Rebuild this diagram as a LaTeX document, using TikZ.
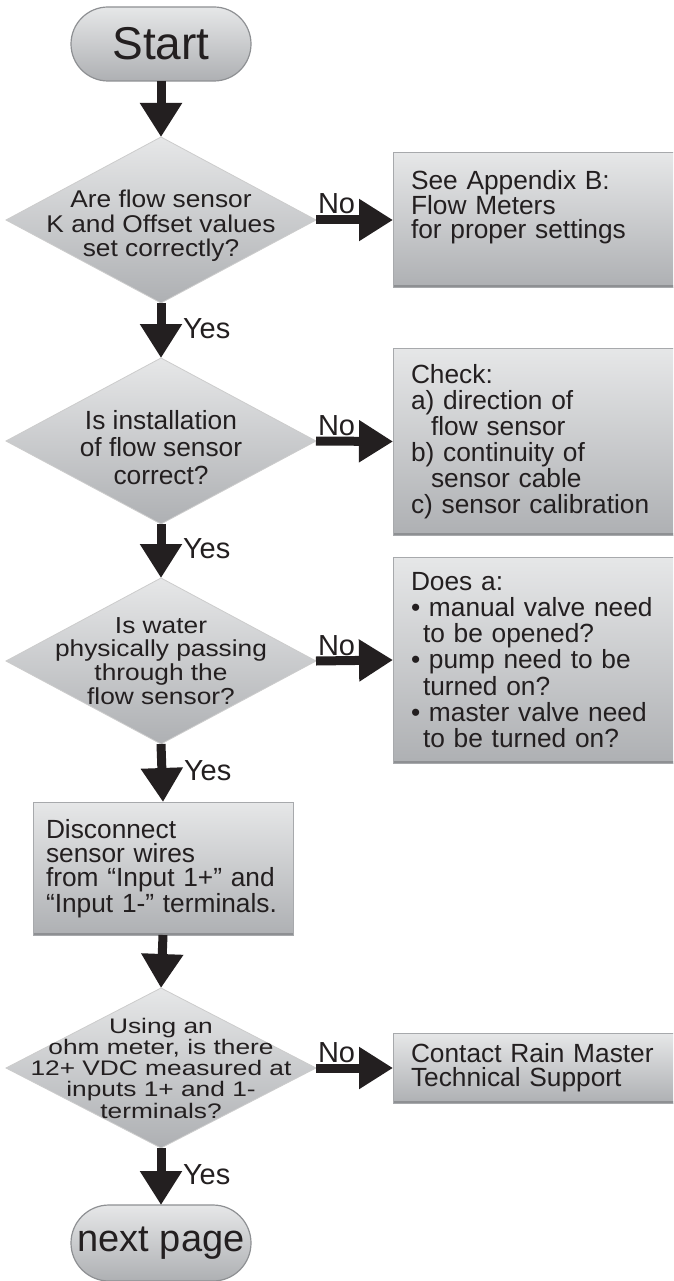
\documentclass[tikz,border=0pt]{standalone}
\usepackage{fontspec}
\setmainfont{Liberation Sans}
\usetikzlibrary{shapes.geometric,shapes.misc,arrows.meta,calc}
\definecolor{ink}{HTML}{231F20}
\definecolor{gtop}{HTML}{E6E7E8}
\definecolor{gbot}{HTML}{AEB0B3}
\definecolor{edge}{HTML}{A7A9AC}
\definecolor{edgedark}{HTML}{8E9093}
\newcommand\vsq[3]{\scalebox{1}[#1]{\fontsize{26.3}{#2}\selectfont\begin{tabular}{@{}c@{}}#3\end{tabular}}}
\begin{document}
\begin{tikzpicture}[x=1pt,y=-1pt,
  every node/.style={outer sep=0pt, text=ink},
  pill/.style={rounded rectangle, minimum width=180pt, minimum height=74pt, inner sep=0pt,
    top color=gtop, bottom color=gbot, draw=edgedark, line width=1.2pt},
  dia/.style={diamond, minimum width=310pt, minimum height=166pt, inner sep=0pt,
    top color=gtop, bottom color=gbot, draw=black!20, line width=0.8pt},
  rbox/.style={rectangle, top color=gtop, bottom color=gbot, draw=edge, line width=1pt,
    text width=#1, inner xsep=18pt, inner ysep=0pt, align=left,
    path picture={\draw[edgedark, line width=4pt] (path picture bounding box.south west) -- (path picture bounding box.south east);}},
  rbox/.default=252pt,
  lbl/.style={inner sep=0pt},
  flow/.style={draw=ink, line width=9pt, -{Triangle[length=34pt,width=40pt]}},
  ans/.style={font=\fontsize{29}{29}\selectfont, inner sep=0pt},
]
\useasboundingbox (0,0) rectangle (673,1281);
\fill[white] (0,0) rectangle (673,1281);
\clip (0,0) rectangle (673,1281);

% start
\node[pill, font=\fontsize{46}{46}\selectfont] (start) at (161,44) {Start};

% decision 1
\node[dia] (d1) at (161,220) {};
\node[lbl] (t1) at (161,227) {\vsq{0.92}{25}{Are flow sensor\\K and Offset values\\set correctly?}};
\node[rbox, anchor=west, minimum height=134pt, font=\fontsize{26.3}{24}\selectfont] (b1) at (393,220)
  {See Appendix B:\\Flow Meters\\for proper settings\\\strut};

% decision 2
\node[dia] (d2) at (161,441) {};
\node[lbl] (t2) at (161,451) {\vsq{1}{27.5}{Is installation\\of flow sensor\\correct?}};
\node[rbox, anchor=west, minimum height=187pt, font=\fontsize{26.3}{26}\selectfont] (b2) at (393,441.5)
  {Check:\\a) direction of\\\hspace*{20pt}flow sensor\\b) continuity of\\\hspace*{20pt}sensor cable\\c) sensor calibration};

% decision 3
\node[dia] (d3) at (161,661) {};
\node[lbl] (t3) at (161,664) {\vsq{0.88}{26.5}{Is water\\physically passing\\through the\\flow sensor?}};
\node[rbox, anchor=west, minimum height=206pt, font=\fontsize{26.3}{26.2}\selectfont] (b3) at (393,660)
  {Does a:\\\textbullet{} manual valve need\\\hspace*{12pt}to be opened?\\\textbullet{} pump need to be\\\hspace*{12pt}turned on?\\\textbullet{} master valve need\\\hspace*{12pt}to be turned on?};

% process box
\node[rbox=234pt, inner xsep=13pt, minimum height=133pt, font=\fontsize{26.3}{24}\selectfont] (b4) at (163,868.5)
  {Disconnect\\sensor wires\\from “Input 1+” and\\“Input 1-” terminals.};

% decision 5
\node[dia, minimum height=160pt] (d5) at (161,1068) {};
\node[lbl] (t5) at (161,1071) {\vsq{0.8}{25}{Using an\\ohm meter, is there\\12+ VDC measured at\\inputs 1+ and 1-\\terminals?}};
\node[rbox, anchor=west, minimum height=70pt, font=\fontsize{26.3}{24}\selectfont] (b5) at (393,1068)
  {Contact Rain Master\\Technical Support};

% end
\node[pill, minimum height=76pt, font=\fontsize{38}{38}\selectfont] (next) at (161,1243) {next page};

% vertical connectors
\draw[flow] (start.south) -- (d1.north);
\draw[flow] (d1.south) -- (d2.north);
\draw[flow] (d2.south) -- (d3.north);
\draw[flow] (d3.south) -- (b4.north);
\draw[flow] (b4.south) -- (d5.north);
\draw[flow] (d5.south) -- (next.north);

% horizontal connectors
\draw[flow] (d1.east) -- (b1.west);
\draw[flow] (d2.east) -- (b2.west);
\draw[flow] (d3.east) -- (b3.west);
\draw[flow] (d5.east) -- (b5.west);

% labels
\node[ans, anchor=base west] (n1) at ($(d1.east)+(2,-6)$) {No};
\node[ans, anchor=base west] (n2) at ($(d2.east)+(2,-6)$) {No};
\node[ans, anchor=base west] (n3) at ($(d3.east)+(2,-6)$) {No};
\node[ans, anchor=base west] (n5) at ($(d5.east)+(2,-6)$) {No};
\node[ans, anchor=west] (y1) at ($(d1.south)!0.5!(d2.north)+(22,-2)$) {Yes};
\node[ans, anchor=west] (y2) at ($(d2.south)!0.5!(d3.north)+(22,-2)$) {Yes};
\node[ans, anchor=west] (y3) at ($(d3.south)!0.5!(b4.north)+(22,-2)$) {Yes};
\node[ans, anchor=west] (y5) at ($(d5.south)!0.5!(next.north)+(22,-2)$) {Yes};
\end{tikzpicture}
\end{document}
